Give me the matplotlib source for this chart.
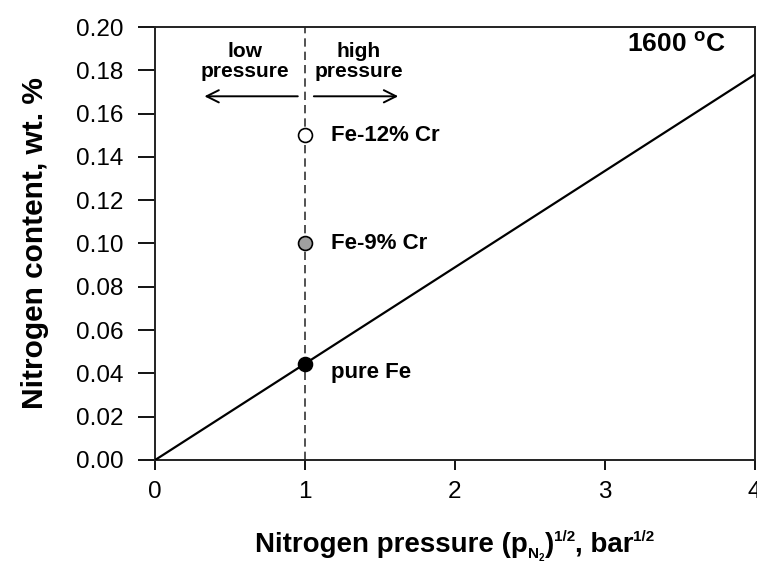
import matplotlib
matplotlib.use("Agg")
import matplotlib.pyplot as plt
import numpy as np

plt.rcParams['font.family'] = ['Liberation Sans', 'DejaVu Sans']
plt.rcParams['mathtext.fontset'] = 'custom'
plt.rcParams['mathtext.rm'] = 'Liberation Sans'
plt.rcParams['mathtext.bf'] = 'Liberation Sans:bold'
plt.rcParams['mathtext.it'] = 'Liberation Sans:italic'

# data
line_x = [0, 4]
slope = 0.0445  # wt.% per bar^(1/2) for pure Fe
line_y = [slope * v for v in line_x]
point_labels = ["Fe-12% Cr", "Fe-9% Cr", "pure Fe"]
point_x = [1, 1, 1]
point_y = [0.150, 0.100, 0.0445]
point_faces = ["white", "#a0a0a0", "black"]
x_ticks = [0, 1, 2, 3, 4]
y_ticks = [0.00, 0.02, 0.04, 0.06, 0.08, 0.10, 0.12, 0.14, 0.16, 0.18, 0.20]

fig = plt.figure(figsize=(7.57, 5.63), dpi=100)
ax = fig.add_axes([0.205, 0.183, 0.792, 0.769])

ax.plot(line_x, line_y, color='black', lw=1.6, zorder=3)
ax.axvline(1, color='#333333', lw=1.2, ls=(0, (5, 3)), zorder=2)

for x, y, fc in zip(point_x, point_y, point_faces):
    ax.plot(x, y, 'o', ms=10, mfc=fc, mec='black', mew=1.2, zorder=4)

lbl_offsets = [(0.17, 0.0), (0.17, 0.0), (0.17, -0.004)]
for lab, x, y, (dx, dy) in zip(point_labels, point_x, point_y, lbl_offsets):
    ax.text(x + dx, y + dy, lab, fontsize=16, fontweight='bold', va='center', ha='left')

ax.annotate('', xy=(0.31, 0.168), xytext=(0.97, 0.168),
            arrowprops=dict(arrowstyle='->', lw=1.4, color='black', mutation_scale=22))
ax.annotate('', xy=(1.64, 0.168), xytext=(1.04, 0.168),
            arrowprops=dict(arrowstyle='->', lw=1.4, color='black', mutation_scale=22))
ax.text(0.60, 0.184, 'low\npressure', fontsize=15, fontweight='bold', ha='center', va='center', linespacing=1.05)
ax.text(1.36, 0.184, 'high\npressure', fontsize=15, fontweight='bold', ha='center', va='center', linespacing=1.05)

ax.text(3.15, 0.192, r'1600 $^{\mathbf{o}}$C', fontsize=19, fontweight='bold', ha='left', va='center')

ax.set_xlim(0, 4)
ax.set_ylim(0, 0.20)
ax.set_xticks(x_ticks)
ax.set_xticklabels([str(t) for t in x_ticks])
ax.set_yticks(y_ticks)
ax.set_yticklabels([f"{t:.2f}" for t in y_ticks])
ax.tick_params(axis='y', direction='out', length=12, width=1.3, labelsize=17.5, pad=11)
ax.tick_params(axis='x', direction='out', length=7, width=1.3, labelsize=17.5, pad=8)
for s in ax.spines.values():
    s.set_linewidth(1.4)
    s.set_color('#222222')

ax.set_ylabel('Nitrogen content, wt. %', fontsize=21.5, fontweight='bold', labelpad=19)

# x label assembled from pieces so the sub/superscripts stay small
pieces = [("Nitrogen pressure (p", 20, 0.0), ("N", 11, -6.0), ("2", 7, -9.0),
          (")", 20, 0.0), ("1/2", 11, 11.0), (", bar", 20, 0.0), ("1/2", 11, 11.0)]
fig.canvas.draw()
renderer = fig.canvas.get_renderer()
base_y = 552  # baseline in pixels from top
texts = []
for s, fs, dy in pieces:
    t = fig.text(0, 0, s, fontsize=fs, fontweight='bold', ha='left', va='baseline',
                 transform=None)
    texts.append((t, dy))
widths = [t.get_window_extent(renderer).width for t, dy in texts]
total = sum(widths)
H = fig.bbox.height
ax_bb = ax.get_window_extent(renderer)
x0 = (ax_bb.x0 + ax_bb.x1) / 2 - total / 2
for (t, dy), w in zip(texts, widths):
    t.set_position((x0, H - base_y + dy))
    x0 += w

fig.savefig('out.png', dpi=100)
